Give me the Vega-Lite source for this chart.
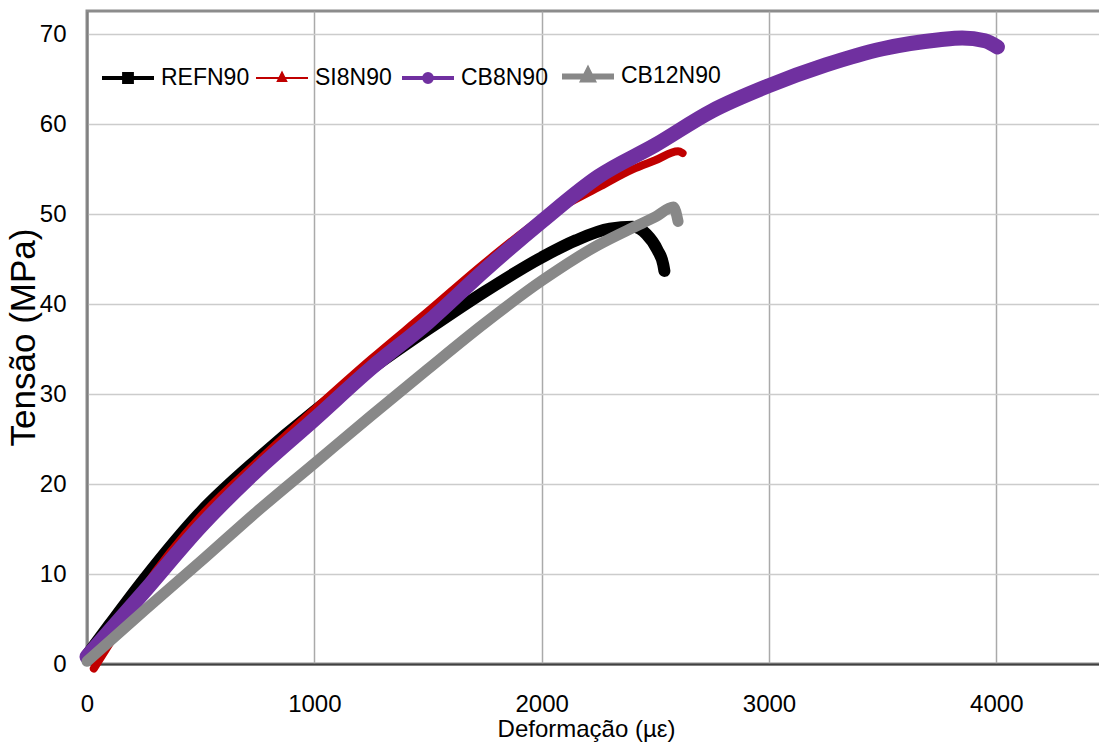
{
  "$schema": "https://vega.github.io/schema/vega-lite/v6.json",
  "width": 1015,
  "height": 653,
  "autosize": {"type": "none"},
  "padding": {"left": 87, "top": 11, "right": -3, "bottom": 88},
  "background": "white",
  "config": {
    "view": {"stroke": "#8c8c8c", "strokeWidth": 3},
    "font": "Liberation Sans"
  },
  "data": {
    "values": [
      {"series": "REFN90", "x": 0, "y": 1.0},
      {"series": "REFN90", "x": 100, "y": 4.4},
      {"series": "REFN90", "x": 250, "y": 9.4},
      {"series": "REFN90", "x": 500, "y": 16.9},
      {"series": "REFN90", "x": 750, "y": 22.8},
      {"series": "REFN90", "x": 1000, "y": 28.1},
      {"series": "REFN90", "x": 1250, "y": 32.8},
      {"series": "REFN90", "x": 1500, "y": 37.2},
      {"series": "REFN90", "x": 1750, "y": 41.4},
      {"series": "REFN90", "x": 2000, "y": 45.2},
      {"series": "REFN90", "x": 2150, "y": 47.1},
      {"series": "REFN90", "x": 2300, "y": 48.4},
      {"series": "REFN90", "x": 2400, "y": 48.6},
      {"series": "REFN90", "x": 2460, "y": 47.8},
      {"series": "REFN90", "x": 2510, "y": 46.0},
      {"series": "REFN90", "x": 2535, "y": 44.4},
      {"series": "REFN90", "x": 2540, "y": 43.7},
      {"series": "SI8N90", "x": 30, "y": -0.5},
      {"series": "SI8N90", "x": 100, "y": 2.3},
      {"series": "SI8N90", "x": 250, "y": 8.4},
      {"series": "SI8N90", "x": 500, "y": 16.4},
      {"series": "SI8N90", "x": 750, "y": 22.5},
      {"series": "SI8N90", "x": 1000, "y": 28.3},
      {"series": "SI8N90", "x": 1250, "y": 33.9},
      {"series": "SI8N90", "x": 1500, "y": 39.2},
      {"series": "SI8N90", "x": 1750, "y": 44.6},
      {"series": "SI8N90", "x": 2000, "y": 49.5},
      {"series": "SI8N90", "x": 2250, "y": 53.0},
      {"series": "SI8N90", "x": 2400, "y": 55.0},
      {"series": "SI8N90", "x": 2500, "y": 56.0},
      {"series": "SI8N90", "x": 2600, "y": 57.0},
      {"series": "SI8N90", "x": 2620, "y": 56.8},
      {"series": "CB8N90", "x": 0, "y": 0.8},
      {"series": "CB8N90", "x": 250, "y": 8.0},
      {"series": "CB8N90", "x": 500, "y": 15.3},
      {"series": "CB8N90", "x": 750, "y": 21.6},
      {"series": "CB8N90", "x": 1000, "y": 27.2},
      {"series": "CB8N90", "x": 1250, "y": 32.9},
      {"series": "CB8N90", "x": 1500, "y": 38.0},
      {"series": "CB8N90", "x": 1750, "y": 43.8},
      {"series": "CB8N90", "x": 2000, "y": 49.2},
      {"series": "CB8N90", "x": 2250, "y": 54.2},
      {"series": "CB8N90", "x": 2500, "y": 57.7},
      {"series": "CB8N90", "x": 2750, "y": 61.5},
      {"series": "CB8N90", "x": 3000, "y": 64.3},
      {"series": "CB8N90", "x": 3250, "y": 66.6},
      {"series": "CB8N90", "x": 3500, "y": 68.4},
      {"series": "CB8N90", "x": 3750, "y": 69.4},
      {"series": "CB8N90", "x": 3850, "y": 69.6},
      {"series": "CB8N90", "x": 3950, "y": 69.3},
      {"series": "CB8N90", "x": 4005, "y": 68.6},
      {"series": "CB12N90", "x": 0, "y": 0.3},
      {"series": "CB12N90", "x": 250, "y": 5.9},
      {"series": "CB12N90", "x": 500, "y": 11.4},
      {"series": "CB12N90", "x": 750, "y": 17.0},
      {"series": "CB12N90", "x": 1000, "y": 22.3},
      {"series": "CB12N90", "x": 1250, "y": 27.6},
      {"series": "CB12N90", "x": 1500, "y": 32.8},
      {"series": "CB12N90", "x": 1750, "y": 37.9},
      {"series": "CB12N90", "x": 2000, "y": 42.6},
      {"series": "CB12N90", "x": 2250, "y": 46.6},
      {"series": "CB12N90", "x": 2400, "y": 48.5},
      {"series": "CB12N90", "x": 2500, "y": 49.7},
      {"series": "CB12N90", "x": 2580, "y": 50.8},
      {"series": "CB12N90", "x": 2600, "y": 49.2}
    ]
  },
  "encoding": {
    "x": {
      "field": "x", "type": "quantitative",
      "scale": {"domain": [0, 4465], "nice": false, "zero": false},
      "axis": {
        "title": "Deformação (µε)",
        "values": [0, 1000, 2000, 3000, 4000],
        "format": "d",
        "grid": true, "gridColor": "#aaaaaa", "gridWidth": 1.5,
        "ticks": false,
        "domain": true, "domainColor": "#404040", "domainWidth": 2,
        "labelFont": "Liberation Sans", "labelFontSize": 24, "labelColor": "#000000",
        "labelPadding": 28, "labelFlush": false, "labelOverlap": false, "labelBound": false,
        "titleFont": "Liberation Sans", "titleFontSize": 24, "titleFontWeight": "normal",
        "titleColor": "#000000", "titleX": 499, "titleY": 53, "titleBaseline": "top", "titleAlign": "center", "titleAnchor": null
      }
    },
    "y": {
      "field": "y", "type": "quantitative",
      "scale": {"domain": [0, 72.6], "nice": false, "zero": false},
      "axis": {
        "title": "Tensão (MPa)",
        "values": [0, 10, 20, 30, 40, 50, 60, 70],
        "grid": true, "gridColor": "#cccccc", "gridWidth": 1.5,
        "ticks": false,
        "domain": true, "domainColor": "#7f7f7f", "domainWidth": 2,
        "labelFont": "Liberation Sans", "labelFontSize": 24, "labelColor": "#000000",
        "labelPadding": 21, "labelOverlap": false, "labelBound": false, "labelFlush": false,
        "titleFont": "Liberation Sans", "titleFontSize": 35, "titleFontWeight": "normal",
        "titleColor": "#000000", "titleX": -53, "titleY": 326, "titleAngle": 270,
        "titleBaseline": "alphabetic", "titleAlign": "center", "titleAnchor": null
      }
    },
    "color": {
      "field": "series", "type": "nominal",
      "scale": {
        "domain": ["REFN90", "SI8N90", "CB8N90", "CB12N90"],
        "range": ["#000000", "#c00000", "#7030a0", "#888888"]
      },
      "legend": {
        "title": null,
        "orient": "none",
        "legendX": 12,
        "legendY": 36,
        "direction": "horizontal",
        "padding": 0,
        "symbolSize": 2704,
        "labelOffset": 4,
        "columnPadding": 2,
        "labelFont": "Liberation Sans",
        "labelFontSize": 23,
        "labelColor": "#000000",
        "labelLimit": 300,
        "encode": {
          "symbols": {
            "update": {
              "shape": {"signal": "(datum.value === 'REFN90' ? 'M-1,0H1M-0.15,-0.15H0.15V0.15H-0.15Z' : datum.value === 'SI8N90' ? 'M-1,0H1M0,-0.2L0.16,0.12L-0.16,0.12Z' : datum.value === 'CB8N90' ? 'M-1,0H1M-0.15,0A0.15,0.15 0 1,0 0.15,0A0.15,0.15 0 1,0 -0.15,0Z' : 'M-1,0H1M0,-0.2L0.16,0.12L-0.16,0.12Z')"},
              "fill": {"signal": "(datum.value === 'REFN90' ? '#000000' : datum.value === 'SI8N90' ? '#c00000' : datum.value === 'CB8N90' ? '#7030a0' : '#8c8c8c')"},
              "stroke": {"signal": "(datum.value === 'REFN90' ? '#000000' : datum.value === 'SI8N90' ? '#c00000' : datum.value === 'CB8N90' ? '#7030a0' : '#c8c8c8')"},
              "strokeWidth": {"signal": "(datum.value === 'REFN90' ? 4 : datum.value === 'SI8N90' ? 2 : datum.value === 'CB8N90' ? 4 : 6)"},
              "opacity": {"value": 1},
              "fillOpacity": {"value": 1}
            }
          }
        }
      }
    }
  },
  "layer": [
    {
      "transform": [{"filter": "datum.series === 'REFN90'"}],
      "mark": {"type": "line", "interpolate": "monotone", "strokeCap": "round", "strokeJoin": "round", "strokeWidth": 12}
    },
    {
      "transform": [{"filter": "datum.series === 'SI8N90'"}],
      "mark": {"type": "line", "interpolate": "monotone", "strokeCap": "round", "strokeJoin": "round", "strokeWidth": 8}
    },
    {
      "transform": [{"filter": "datum.series === 'CB8N90'"}],
      "mark": {"type": "line", "interpolate": "monotone", "strokeCap": "round", "strokeJoin": "round", "strokeWidth": 15}
    },
    {
      "transform": [{"filter": "datum.series === 'CB12N90'"}],
      "mark": {"type": "line", "interpolate": "monotone", "strokeCap": "round", "strokeJoin": "round", "strokeWidth": 11}
    }
  ]
}
